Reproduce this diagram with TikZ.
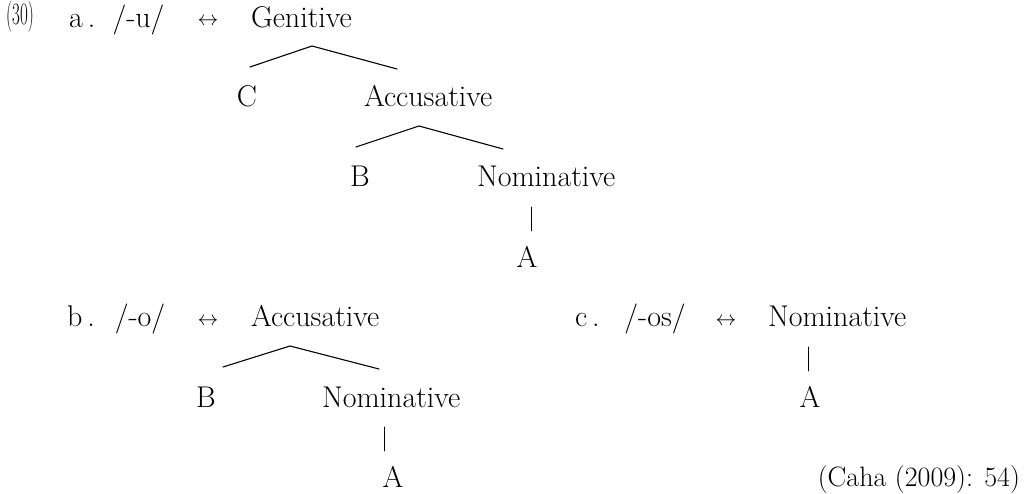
\documentclass[tikz,border=0pt]{standalone}
\begin{document}
\begin{tikzpicture}[x=1pt,y=1pt,
  lbl/.style={inner sep=0pt,outer sep=0pt,font=\fontsize{30}{36}\selectfont},
  arr/.style={inner sep=0pt,outer sep=0pt,font=\fontsize{20}{24}\selectfont},
  branch/.style={line width=1.1pt,line cap=round,line join=miter},
  stem/.style={line width=0.8pt,line cap=round}]
\useasboundingbox (0,0) rectangle (1028,493);

% example number
\node[inner sep=0pt,anchor=base west,font=\fontsize{31}{36}\selectfont] (num) at (6,468) {\scalebox{0.55}[1]{(30)}};

% (a) /-u/ <-> Genitive
\node[lbl,anchor=base west] (la) at (69,465.5) {a\,.};
\node[lbl,anchor=base] (ua) at (138.5,465.5) {/-u/};
\node[arr,anchor=base] (ara) at (208,467) {$\leftrightarrow$};
\node[lbl,anchor=base west] (gen) at (251,465.5) {Genitive};
\node[lbl,anchor=base] (c) at (247,386.5) {C};
\node[lbl,anchor=base west] (accA) at (364,386.5) {Accusative};
\node[lbl,anchor=base] (bA) at (360,306.5) {B};
\node[lbl,anchor=base west] (nomA) at (477,306.5) {Nominative};
\node[lbl,anchor=base] (aA) at (527,225.5) {A};

\coordinate (genTop) at (312,447);
\coordinate (genL) at (250,426);
\coordinate (genR) at (397,424);
\draw[branch] (genL) -- (genTop) -- (genR);
\coordinate (accATop) at (419,367);
\coordinate (accAL) at (356,346);
\coordinate (accAR) at (503,344);
\draw[branch] (accAL) -- (accATop) -- (accAR);
\coordinate (nomAT) at (531,286);
\coordinate (nomAB) at (531,262);
\draw[stem] (nomAT) -- (nomAB);

% (b) /-o/ <-> Accusative
\node[lbl,anchor=base west] (lb) at (67,166) {b\,.};
\node[lbl,anchor=base] (ob) at (140,166) {/-o/};
\node[arr,anchor=base] (arb) at (208,167.5) {$\leftrightarrow$};
\node[lbl,anchor=base west] (accB) at (251,166) {Accusative};
\node[lbl,anchor=base] (bB) at (206,85.5) {B};
\node[lbl,anchor=base west] (nomB) at (322,85.5) {Nominative};
\node[lbl,anchor=base] (aB) at (393,5.5) {A};

\coordinate (accBTop) at (290,147);
\coordinate (accBL) at (223,126);
\coordinate (accBR) at (379,124);
\draw[branch] (accBL) -- (accBTop) -- (accBR);
\coordinate (nomBT) at (384,66);
\coordinate (nomBB) at (384,42);
\draw[stem] (nomBT) -- (nomBB);

% (c) /-os/ <-> Nominative
\node[lbl,anchor=base west] (lc) at (575,166) {c\,.};
\node[lbl,anchor=base] (osc) at (655,166) {/-os/};
\node[arr,anchor=base] (arc) at (726,167.5) {$\leftrightarrow$};
\node[lbl,anchor=base west] (nomC) at (768,166) {Nominative};
\node[lbl,anchor=base] (aC) at (810,85.5) {A};
\coordinate (nomCT) at (808,146);
\coordinate (nomCB) at (808,122);
\draw[stem] (nomCT) -- (nomCB);

% source
\node[lbl,anchor=base east,font=\fontsize{28}{34}\selectfont] (src) at (1020,7) {(Caha (2009): 54)};
\end{tikzpicture}
\end{document}
